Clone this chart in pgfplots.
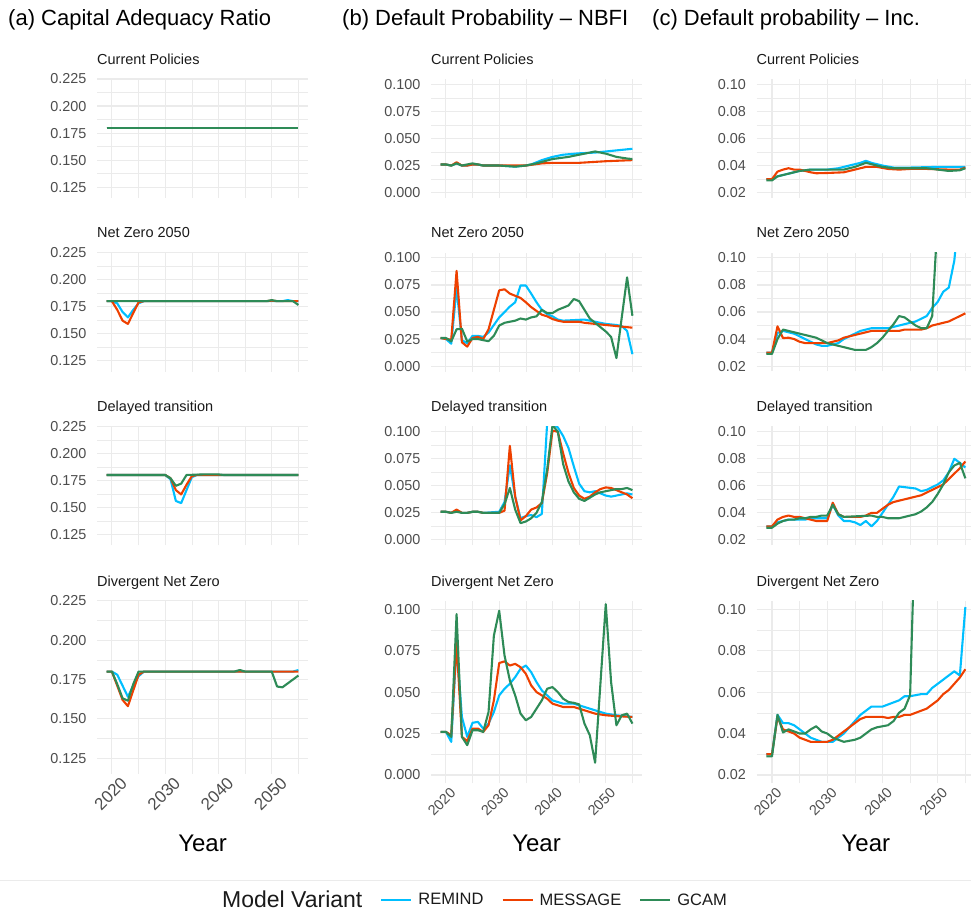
\documentclass[border=0pt]{standalone}
\usepackage{fontspec}
\setmainfont{Liberation Sans}
\usepackage{pgfplots}
\pgfplotsset{compat=1.18}

\definecolor{cremind}{HTML}{00BFFF}
\definecolor{cmessage}{HTML}{EE4000}
\definecolor{cgcam}{HTML}{2E8B57}
\definecolor{gridc}{HTML}{EBEBEB}
\definecolor{tickc}{HTML}{4D4D4D}
\definecolor{titc}{HTML}{1A1A1A}

\newcommand{\ticklab}{\fontsize{14.4}{16}\selectfont}
\newcommand{\ticklabA}{\fontsize{17}{20}\selectfont}
\newcommand{\striplab}{\fontsize{14.5}{17}\selectfont}
\newcommand{\yearlab}{\fontsize{24}{28}\selectfont}
\newcommand{\collab}{\fontsize{22}{26}\selectfont}
\newcommand{\legfont}{\fontsize{16.5}{20}\selectfont}

\pgfplotsset{
  sR/.style={draw=cremind, line width=2.1pt, line join=round, mark=none},
  sM/.style={draw=cmessage, line width=2.1pt, line join=round, mark=none},
  sG/.style={draw=cgcam, line width=2.1pt, line join=round, mark=none},
  panel/.style={
    scale only axis, clip=true,
    xmin=2017.2, xmax=2056.8,
    axis line style={draw=none},
    major tick length=0pt, minor tick length=0pt,
    tick style={draw=none},
    grid=both,
    major grid style={draw=gridc, line width=1.1pt},
    minor grid style={draw=gridc, line width=0.55pt},
    xtick={2020,2030,2040,2050},
    minor xtick={2025,2035,2045,2055},
    xticklabels={},
    scaled ticks=false,
    yticklabel style={font=\ticklab, text=tickc, anchor=east, inner sep=0pt, xshift=-10.5pt},
    title style={at={(0,1)}, anchor=base west, inner sep=0pt, yshift=8.6pt, font=\striplab, text=titc},
  },
  colA/.style={panel, width=211pt, ymin=0.115, ymax=0.225,
    ytick={0.125,0.15,0.175,0.2,0.225}, yticklabels={0.125,0.150,0.175,0.200,0.225},
    minor ytick={0.1375,0.1625,0.1875,0.2125}},
  colB/.style={panel, width=211pt, ymin=-0.005, ymax=0.105,
    ytick={0,0.025,0.05,0.075,0.1}, yticklabels={0.000,0.025,0.050,0.075,0.100},
    minor ytick={0.0125,0.0375,0.0625,0.0875}},
  colC/.style={panel, width=218.8pt, ymin=0.016, ymax=0.104,
    ytick={0.02,0.04,0.06,0.08,0.1}, yticklabels={0.02,0.04,0.06,0.08,0.10},
    minor ytick={0.03,0.05,0.07,0.09}},
  bottom/.style={xticklabels={2020,2030,2040,2050},
    xticklabel style={font=\ticklab, text=tickc, rotate=45, anchor=north east, inner sep=0pt, yshift=-5pt},
    xlabel={Year}, xlabel style={font=\yearlab, at={(0.5,0)}, anchor=base, yshift=-68.3pt}},
  bottomA/.style={bottom, xticklabel style={font=\ticklabA, xshift=4pt, yshift=-2pt},
    xlabel style={yshift=-9.3pt}},
}

\begin{document}
\begin{tikzpicture}
\useasboundingbox (0pt,0pt) rectangle (971pt,-915pt);

\node[anchor=base west, inner sep=0pt, font=\collab] at (8pt,-26pt) {(a) Capital Adequacy Ratio};
\node[anchor=base west, inner sep=0pt, font=\collab] at (342pt,-26pt) {(b) Default Probability – NBFI};
\node[anchor=base west, inner sep=0pt, font=\collab] at (652pt,-26pt) {(c) Default probability – Inc.};

% ---------- column a ----------
\begin{axis}[colA, at={(97pt,-79pt)}, anchor=north west, height=119pt, title={Current Policies}]
\addplot[sR] coordinates {(2019,0.18)(2055,0.18)};
\addplot[sM] coordinates {(2019,0.18)(2055,0.18)};
\addplot[sG] coordinates {(2019,0.18)(2055,0.18)};
\end{axis}

\begin{axis}[colA, at={(97pt,-252.5pt)}, anchor=north west, height=119pt, title={Net Zero 2050}]
\addplot[sR] coordinates {(2019,0.18)(2020,0.18)(2021,0.178)(2022,0.170)(2023,0.165)(2024,0.172)(2025,0.178)(2026,0.18)(2052,0.18)(2053,0.181)(2054,0.18)(2055,0.18)};
\addplot[sM] coordinates {(2019,0.18)(2020,0.18)(2021,0.172)(2022,0.162)(2023,0.159)(2024,0.169)(2025,0.179)(2026,0.18)(2049,0.18)(2050,0.1805)(2051,0.18)(2055,0.18)};
\addplot[sG] coordinates {(2019,0.18)(2049,0.18)(2050,0.181)(2051,0.18)(2054,0.18)(2055,0.1765)};
\end{axis}

\begin{axis}[colA, at={(97pt,-426.3pt)}, anchor=north west, height=119pt, title={Delayed transition}]
\addplot[sR] coordinates {(2019,0.18)(2030,0.18)(2031,0.176)(2032,0.156)(2033,0.154)(2034,0.166)(2035,0.178)(2036,0.18)(2055,0.18)};
\addplot[sM] coordinates {(2019,0.18)(2030,0.18)(2031,0.177)(2032,0.166)(2033,0.162)(2034,0.171)(2035,0.179)(2036,0.18)(2055,0.18)};
\addplot[sG] coordinates {(2019,0.18)(2030,0.18)(2031,0.177)(2032,0.170)(2033,0.172)(2034,0.18)(2037,0.1805)(2040,0.1805)(2041,0.18)(2055,0.18)};
\end{axis}

\begin{axis}[colA, bottomA, at={(97pt,-600.8pt)}, anchor=north west, height=173pt, title={Divergent Net Zero}]
\addplot[sR] coordinates {(2019,0.18)(2020,0.18)(2021,0.178)(2022,0.171)(2023,0.164)(2024,0.171)(2025,0.177)(2026,0.18)(2054,0.18)(2055,0.181)};
\addplot[sM] coordinates {(2019,0.18)(2020,0.18)(2021,0.171)(2022,0.162)(2023,0.158)(2024,0.168)(2025,0.178)(2026,0.18)(2055,0.18)};
\addplot[sG] coordinates {(2019,0.18)(2020,0.18)(2021,0.172)(2022,0.163)(2023,0.1615)(2024,0.172)(2025,0.18)(2043,0.18)(2044,0.181)(2045,0.18)(2050,0.18)(2051,0.1705)(2052,0.170)(2053,0.1725)(2054,0.175)(2055,0.1775)};
\end{axis}

% ---------- column b ----------
\begin{axis}[colB, at={(431pt,-79pt)}, anchor=north west, height=119pt, title={Current Policies}]
\addplot[sR] coordinates {(2019,0.026)(2020,0.026)(2021,0.025)(2022,0.027)(2023,0.025)(2024,0.025)(2025,0.026)(2026,0.026)(2027,0.025)(2030,0.025)(2033,0.024)(2035,0.025)(2036,0.026)(2037,0.028)(2038,0.030)(2040,0.033)(2042,0.035)(2045,0.0363)(2048,0.037)(2050,0.038)(2052,0.039)(2054,0.040)(2055,0.0405)};
\addplot[sM] coordinates {(2019,0.026)(2020,0.026)(2021,0.025)(2022,0.028)(2023,0.025)(2024,0.025)(2025,0.026)(2026,0.026)(2027,0.025)(2035,0.025)(2038,0.027)(2040,0.0275)(2045,0.0275)(2050,0.029)(2055,0.030)};
\addplot[sG] coordinates {(2019,0.026)(2020,0.026)(2021,0.025)(2022,0.027)(2023,0.025)(2024,0.026)(2025,0.027)(2026,0.026)(2027,0.025)(2030,0.025)(2033,0.024)(2035,0.025)(2037,0.027)(2040,0.031)(2043,0.033)(2045,0.035)(2048,0.038)(2050,0.036)(2052,0.033)(2054,0.0315)(2055,0.031)};
\end{axis}

\begin{axis}[colB, at={(431pt,-252.5pt)}, anchor=north west, height=119pt, title={Net Zero 2050}]
\addplot[sR] coordinates {(2019,0.026)(2020,0.025)(2021,0.0207)(2022,0.072)(2023,0.024)(2024,0.021)(2025,0.028)(2026,0.028)(2027,0.027)(2028,0.031)(2029,0.038)(2030,0.045)(2031,0.050)(2032,0.055)(2033,0.059)(2034,0.0745)(2035,0.0745)(2036,0.067)(2037,0.059)(2038,0.052)(2039,0.048)(2040,0.046)(2041,0.043)(2042,0.042)(2044,0.0425)(2046,0.043)(2048,0.041)(2050,0.039)(2052,0.038)(2053,0.037)(2054,0.0325)(2055,0.011)};
\addplot[sM] coordinates {(2019,0.026)(2020,0.025)(2021,0.0245)(2022,0.088)(2023,0.022)(2024,0.018)(2025,0.026)(2026,0.027)(2027,0.025)(2028,0.034)(2029,0.052)(2030,0.070)(2031,0.071)(2032,0.067)(2033,0.065)(2034,0.063)(2035,0.059)(2036,0.0545)(2037,0.051)(2038,0.0475)(2039,0.046)(2040,0.0435)(2041,0.042)(2042,0.041)(2045,0.041)(2046,0.040)(2048,0.039)(2050,0.038)(2052,0.037)(2055,0.0355)};
\addplot[sG] coordinates {(2019,0.026)(2020,0.026)(2021,0.0228)(2022,0.034)(2023,0.0346)(2024,0.0228)(2025,0.025)(2026,0.025)(2027,0.024)(2028,0.023)(2029,0.028)(2030,0.0375)(2031,0.040)(2032,0.041)(2033,0.042)(2034,0.044)(2035,0.043)(2036,0.045)(2037,0.046)(2038,0.052)(2039,0.049)(2040,0.049)(2041,0.052)(2042,0.054)(2043,0.056)(2044,0.062)(2045,0.060)(2046,0.052)(2047,0.044)(2048,0.040)(2049,0.036)(2050,0.032)(2051,0.027)(2052,0.0074)(2053,0.045)(2054,0.082)(2055,0.0465)};
\end{axis}

\begin{axis}[colB, at={(431pt,-426.3pt)}, anchor=north west, height=119pt, title={Delayed transition}]
\addplot[sR] coordinates {(2019,0.026)(2020,0.026)(2021,0.025)(2022,0.027)(2023,0.025)(2024,0.025)(2025,0.026)(2026,0.026)(2027,0.025)(2030,0.026)(2031,0.035)(2032,0.069)(2033,0.040)(2034,0.020)(2035,0.022)(2036,0.023)(2037,0.021)(2038,0.024)(2039,0.108)(2040,0.107)(2041,0.104)(2042,0.096)(2043,0.085)(2044,0.068)(2045,0.052)(2046,0.045)(2047,0.044)(2048,0.045)(2049,0.043)(2050,0.041)(2051,0.040)(2052,0.041)(2053,0.042)(2054,0.043)(2055,0.042)};
\addplot[sM] coordinates {(2019,0.026)(2020,0.026)(2021,0.025)(2022,0.028)(2023,0.025)(2024,0.025)(2025,0.026)(2026,0.026)(2027,0.025)(2030,0.025)(2031,0.027)(2032,0.087)(2033,0.040)(2034,0.018)(2035,0.022)(2036,0.028)(2037,0.030)(2038,0.034)(2039,0.0615)(2040,0.101)(2041,0.100)(2042,0.080)(2043,0.062)(2044,0.048)(2045,0.041)(2046,0.038)(2047,0.040)(2048,0.044)(2049,0.047)(2050,0.0485)(2051,0.048)(2052,0.046)(2053,0.044)(2054,0.042)(2055,0.0385)};
\addplot[sG] coordinates {(2019,0.026)(2020,0.026)(2021,0.025)(2022,0.026)(2023,0.025)(2024,0.025)(2025,0.026)(2026,0.026)(2027,0.025)(2030,0.025)(2031,0.033)(2032,0.048)(2033,0.028)(2034,0.0155)(2035,0.017)(2036,0.020)(2037,0.025)(2038,0.035)(2039,0.065)(2040,0.106)(2041,0.100)(2042,0.070)(2043,0.054)(2044,0.044)(2045,0.038)(2046,0.036)(2047,0.039)(2048,0.042)(2049,0.044)(2050,0.045)(2051,0.046)(2052,0.047)(2053,0.047)(2054,0.048)(2055,0.046)};
\end{axis}

\begin{axis}[colB, bottom, at={(431pt,-600.8pt)}, anchor=north west, height=182.5pt, title={Divergent Net Zero},
  legend columns=-1,
  legend image code/.code={\draw[#1] (0pt,0pt) -- (30pt,0pt);},
  legend style={at={(-1.019,-0.6395)}, anchor=west, draw=none, fill=none, inner sep=0pt,
    font=\legfont, text=titc, cells={anchor=west}, nodes={inner xsep=0pt},
    /tikz/every even column/.append style={column sep=18pt},
    /tikz/every odd column/.append style={column sep=6pt}}]
\addlegendimage{empty legend}
\addlegendentry{\fontsize{23}{26}\selectfont Model Variant}
\addplot[sR] coordinates {(2019,0.026)(2020,0.026)(2021,0.020)(2022,0.078)(2023,0.035)(2024,0.023)(2025,0.0315)(2026,0.032)(2027,0.028)(2028,0.031)(2029,0.038)(2030,0.048)(2031,0.052)(2032,0.055)(2033,0.059)(2034,0.064)(2035,0.066)(2036,0.062)(2037,0.056)(2038,0.051)(2039,0.048)(2040,0.045)(2041,0.044)(2042,0.043)(2044,0.043)(2045,0.042)(2046,0.041)(2047,0.040)(2048,0.039)(2049,0.038)(2050,0.037)(2052,0.036)(2055,0.035)};
\addlegendentry{REMIND}
\addplot[sM] coordinates {(2019,0.026)(2020,0.026)(2021,0.024)(2022,0.080)(2023,0.023)(2024,0.0205)(2025,0.028)(2026,0.028)(2027,0.026)(2028,0.030)(2029,0.045)(2030,0.0675)(2031,0.0685)(2032,0.066)(2033,0.067)(2034,0.065)(2035,0.061)(2036,0.054)(2037,0.050)(2038,0.048)(2039,0.046)(2040,0.043)(2041,0.042)(2042,0.041)(2044,0.041)(2045,0.040)(2046,0.039)(2047,0.038)(2048,0.037)(2050,0.036)(2052,0.0355)(2055,0.035)};
\addlegendentry{MESSAGE}
\addplot[sG] coordinates {(2019,0.026)(2020,0.026)(2021,0.023)(2022,0.097)(2023,0.023)(2024,0.018)(2025,0.027)(2026,0.027)(2027,0.026)(2028,0.038)(2029,0.084)(2030,0.099)(2031,0.072)(2032,0.057)(2033,0.048)(2034,0.037)(2035,0.033)(2036,0.035)(2037,0.040)(2038,0.045)(2039,0.052)(2040,0.053)(2041,0.050)(2042,0.046)(2043,0.044)(2044,0.0435)(2045,0.0426)(2046,0.031)(2047,0.024)(2048,0.0074)(2050,0.103)(2051,0.056)(2052,0.030)(2053,0.036)(2054,0.037)(2055,0.031)};
\addlegendentry{GCAM}
\end{axis}

% ---------- column c ----------
\begin{axis}[colC, at={(756.5pt,-79pt)}, anchor=north west, height=119pt, title={Current Policies}]
\addplot[sR] coordinates {(2019,0.030)(2020,0.030)(2021,0.032)(2022,0.033)(2023,0.034)(2024,0.035)(2025,0.036)(2027,0.037)(2030,0.037)(2032,0.038)(2034,0.040)(2036,0.042)(2037,0.0435)(2038,0.042)(2040,0.040)(2042,0.0385)(2045,0.0385)(2050,0.039)(2055,0.039)};
\addplot[sM] coordinates {(2019,0.030)(2020,0.030)(2021,0.0355)(2022,0.037)(2023,0.038)(2024,0.037)(2025,0.037)(2026,0.036)(2027,0.035)(2028,0.0343)(2030,0.0345)(2033,0.035)(2035,0.037)(2037,0.039)(2039,0.039)(2041,0.0375)(2043,0.037)(2045,0.0375)(2048,0.0375)(2052,0.037)(2054,0.037)(2055,0.0385)};
\addplot[sG] coordinates {(2019,0.029)(2020,0.029)(2021,0.032)(2022,0.033)(2023,0.034)(2024,0.035)(2025,0.036)(2027,0.037)(2030,0.037)(2033,0.037)(2035,0.039)(2037,0.042)(2038,0.041)(2040,0.039)(2042,0.038)(2048,0.038)(2050,0.037)(2052,0.036)(2054,0.0365)(2055,0.038)};
\end{axis}

\begin{axis}[colC, at={(756.5pt,-252.5pt)}, anchor=north west, height=119pt, title={Net Zero 2050}]
\addplot[sR] coordinates {(2019,0.030)(2020,0.030)(2021,0.0445)(2022,0.046)(2023,0.045)(2024,0.044)(2025,0.042)(2026,0.040)(2027,0.038)(2028,0.036)(2029,0.035)(2030,0.035)(2031,0.036)(2032,0.037)(2033,0.040)(2034,0.042)(2035,0.044)(2036,0.046)(2037,0.047)(2038,0.048)(2041,0.048)(2042,0.049)(2043,0.050)(2044,0.051)(2045,0.052)(2046,0.053)(2047,0.055)(2048,0.057)(2049,0.063)(2050,0.0675)(2051,0.075)(2052,0.078)(2053,0.098)(2054,0.14)(2055,0.16)};
\addplot[sM] coordinates {(2019,0.030)(2020,0.030)(2021,0.0494)(2022,0.0407)(2023,0.041)(2024,0.040)(2025,0.038)(2026,0.037)(2030,0.037)(2031,0.038)(2032,0.039)(2033,0.041)(2034,0.042)(2035,0.043)(2036,0.044)(2037,0.045)(2038,0.046)(2043,0.046)(2044,0.047)(2047,0.047)(2048,0.048)(2049,0.050)(2050,0.051)(2051,0.052)(2052,0.053)(2053,0.055)(2054,0.057)(2055,0.059)};
\addplot[sG] coordinates {(2019,0.029)(2020,0.029)(2021,0.040)(2022,0.047)(2023,0.046)(2024,0.045)(2025,0.044)(2026,0.043)(2027,0.042)(2028,0.041)(2029,0.039)(2030,0.037)(2031,0.036)(2032,0.035)(2033,0.034)(2034,0.033)(2035,0.032)(2036,0.032)(2037,0.032)(2038,0.034)(2039,0.037)(2040,0.041)(2041,0.046)(2042,0.051)(2043,0.057)(2044,0.056)(2045,0.053)(2046,0.050)(2047,0.048)(2048,0.048)(2049,0.057)(2050,0.13)};
\end{axis}

\begin{axis}[colC, at={(756.5pt,-426.3pt)}, anchor=north west, height=119pt, title={Delayed transition}]
\addplot[sR] coordinates {(2019,0.030)(2020,0.030)(2021,0.033)(2022,0.034)(2023,0.035)(2026,0.035)(2027,0.036)(2030,0.036)(2031,0.046)(2032,0.038)(2033,0.034)(2034,0.034)(2035,0.033)(2036,0.031)(2037,0.034)(2038,0.030)(2039,0.034)(2040,0.040)(2041,0.046)(2042,0.052)(2043,0.0595)(2044,0.059)(2045,0.0585)(2046,0.058)(2047,0.056)(2048,0.057)(2049,0.059)(2050,0.061)(2051,0.064)(2052,0.070)(2053,0.080)(2054,0.077)(2055,0.0735)};
\addplot[sM] coordinates {(2019,0.030)(2020,0.030)(2021,0.035)(2022,0.037)(2023,0.038)(2024,0.037)(2025,0.037)(2026,0.036)(2027,0.035)(2028,0.034)(2030,0.034)(2031,0.0475)(2032,0.039)(2033,0.037)(2036,0.037)(2037,0.038)(2038,0.040)(2039,0.040)(2040,0.043)(2041,0.046)(2042,0.048)(2043,0.049)(2044,0.050)(2045,0.051)(2046,0.052)(2047,0.053)(2048,0.055)(2049,0.057)(2050,0.059)(2051,0.061)(2052,0.065)(2053,0.069)(2054,0.073)(2055,0.078)};
\addplot[sG] coordinates {(2019,0.029)(2020,0.029)(2021,0.032)(2022,0.034)(2023,0.035)(2024,0.035)(2025,0.036)(2026,0.036)(2027,0.037)(2028,0.037)(2029,0.038)(2030,0.038)(2031,0.046)(2032,0.039)(2033,0.037)(2038,0.038)(2039,0.037)(2040,0.037)(2041,0.036)(2043,0.036)(2044,0.037)(2045,0.038)(2046,0.039)(2047,0.041)(2048,0.044)(2049,0.048)(2050,0.054)(2051,0.061)(2052,0.070)(2053,0.075)(2054,0.077)(2055,0.0655)};
\end{axis}

\begin{axis}[colC, bottom, at={(756.5pt,-600.8pt)}, anchor=north west, height=182.5pt, title={Divergent Net Zero}]
\addplot[sR] coordinates {(2019,0.030)(2020,0.030)(2021,0.049)(2022,0.045)(2023,0.045)(2024,0.044)(2025,0.042)(2026,0.040)(2027,0.038)(2028,0.037)(2029,0.036)(2031,0.036)(2032,0.038)(2033,0.040)(2034,0.043)(2035,0.046)(2036,0.049)(2037,0.051)(2038,0.053)(2040,0.053)(2041,0.054)(2042,0.055)(2043,0.056)(2044,0.058)(2045,0.058)(2046,0.0585)(2047,0.059)(2048,0.059)(2049,0.062)(2050,0.064)(2051,0.066)(2052,0.068)(2053,0.070)(2054,0.068)(2055,0.101)};
\addplot[sM] coordinates {(2019,0.030)(2020,0.030)(2021,0.048)(2022,0.042)(2023,0.041)(2024,0.040)(2025,0.038)(2026,0.037)(2027,0.036)(2030,0.036)(2031,0.037)(2032,0.039)(2033,0.041)(2034,0.043)(2035,0.045)(2036,0.047)(2037,0.048)(2040,0.048)(2041,0.0475)(2042,0.048)(2043,0.048)(2044,0.049)(2045,0.049)(2046,0.050)(2047,0.051)(2048,0.052)(2049,0.054)(2050,0.056)(2051,0.059)(2052,0.061)(2053,0.064)(2054,0.067)(2055,0.071)};
\addplot[sG] coordinates {(2019,0.029)(2020,0.029)(2021,0.049)(2022,0.0405)(2023,0.042)(2024,0.041)(2025,0.040)(2026,0.040)(2027,0.042)(2028,0.0435)(2029,0.041)(2030,0.040)(2031,0.038)(2032,0.037)(2033,0.036)(2034,0.0365)(2035,0.037)(2036,0.038)(2037,0.040)(2038,0.042)(2039,0.043)(2040,0.0435)(2041,0.044)(2042,0.046)(2043,0.050)(2044,0.052)(2045,0.0585)(2046,0.15)};
\end{axis}

\draw[gridc, line width=1pt] (0pt,-880pt) -- (971pt,-880pt);
\end{tikzpicture}
\end{document}
